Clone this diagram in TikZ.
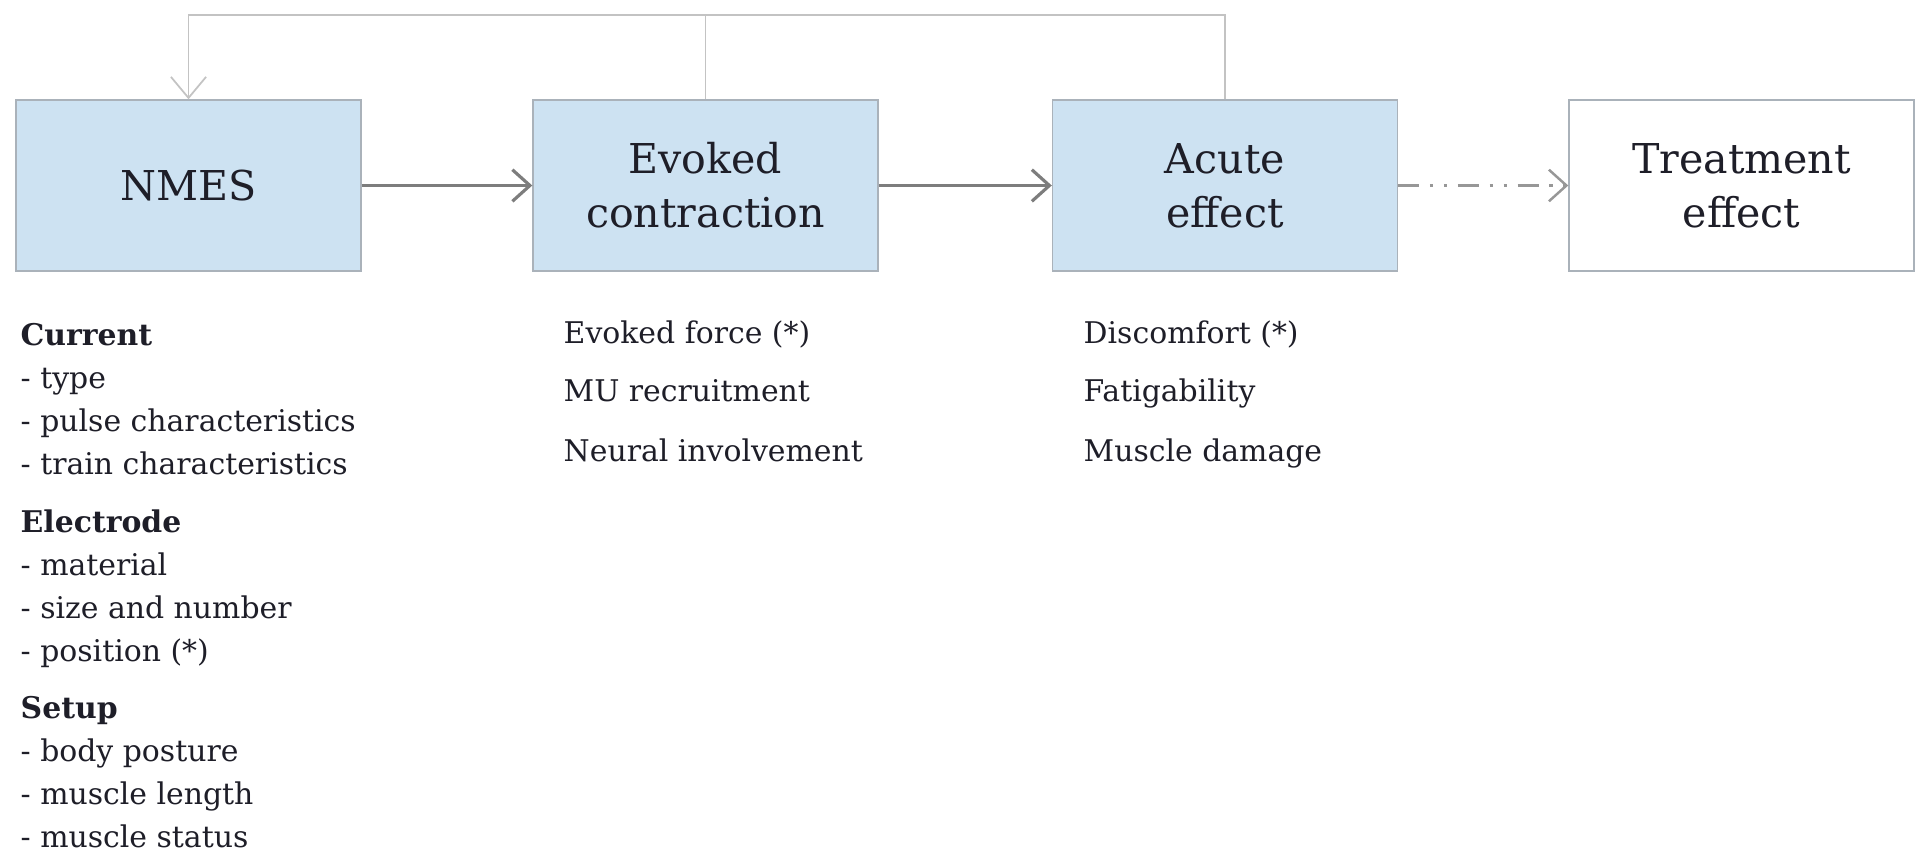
\documentclass[tikz,border=0pt]{standalone}
\usepackage{fontspec}
\setmainfont{DejaVu Serif}
\usepackage{tikz}
\usetikzlibrary{positioning, arrows.meta}
\definecolor{BoxBlue}{RGB}{205,226,242}
\definecolor{BoxEdge}{RGB}{170,178,186}
\definecolor{ArrGray}{RGB}{125,125,125}
\definecolor{FbGray}{RGB}{195,195,195}
\definecolor{TxtDark}{RGB}{30,30,40}

\begin{document}
\begin{tikzpicture}[
      sbox/.style={rectangle, draw=BoxEdge, minimum width=3.45cm,
                   minimum height=1.71cm, align=center, text=TxtDark,
                   font=\fontsize{11.7}{15.3}\selectfont},
      item/.style={anchor=base west, inner sep=0pt, text=TxtDark,
                   font=\fontsize{8.5}{10}\selectfont},
      head/.style={item, font=\fontsize{8.5}{10}\selectfont\bfseries},
      arr/.style={-{Straight Barb[length=5pt, width=9pt]}, draw=ArrGray, line width=0.9pt},
      fb/.style={draw=FbGray, line width=0.5pt}
    ]
    \useasboundingbox (0,0) rectangle (19.17,8.53);

    \node[sbox, fill=BoxBlue] (nmes)  at (1.885, 6.675) {NMES};
    \node[sbox, fill=BoxBlue] (evo)   at (7.055, 6.675) {Evoked\\contraction};
    \node[sbox, fill=BoxBlue] (acu)   at (12.25, 6.675) {Acute\\effect};
    \node[sbox, fill=white]   (treat) at (17.415,6.675) {Treatment\\effect};

    \draw[arr] (nmes) -- (evo);
    \draw[arr] (evo)  -- (acu);
    \draw[arr, draw=ArrGray!80, line width=0.7pt,
          dash pattern=on 6pt off 3pt on 1pt off 3pt on 1pt off 3pt] (acu) -- (treat);

    % feedback loop
    \coordinate (fbtop) at (0, 8.38);
    \draw[fb, -{Straight Barb[length=6pt, width=10pt]}]
          (acu.north) |- (nmes.north |- fbtop) -- (nmes.north);
    \draw[fb] (evo.north) -- (evo.north |- fbtop);

    \foreach \n/\y/\t in {1/5.08/Current, 2/3.21/Electrode, 3/1.35/Setup}{
      \node[head] (h\n) at (0.2,\y) {\t};
    }
    \foreach \n/\y/\t in {1/4.65/- type, 2/4.22/- pulse characteristics,
                          3/3.79/- train characteristics, 4/2.78/- material,
                          5/2.35/- size and number, 6/1.92/- position (*),
                          7/0.92/- body posture, 8/0.49/- muscle length,
                          9/0.06/- muscle status}{
      \node[item] (p\n) at (0.2,\y) {\t};
    }

    \foreach \n/\y/\t in {1/5.10/Evoked force (*), 2/4.52/MU recruitment,
                          3/3.92/Neural involvement}{
      \node[item] (e\n) at (5.63,\y) {\t};
    }
    \foreach \n/\y/\t in {1/5.10/Discomfort (*), 2/4.52/Fatigability,
                          3/3.92/Muscle damage}{
      \node[item] (a\n) at (10.83,\y) {\t};
    }
  \end{tikzpicture}
\end{document}
